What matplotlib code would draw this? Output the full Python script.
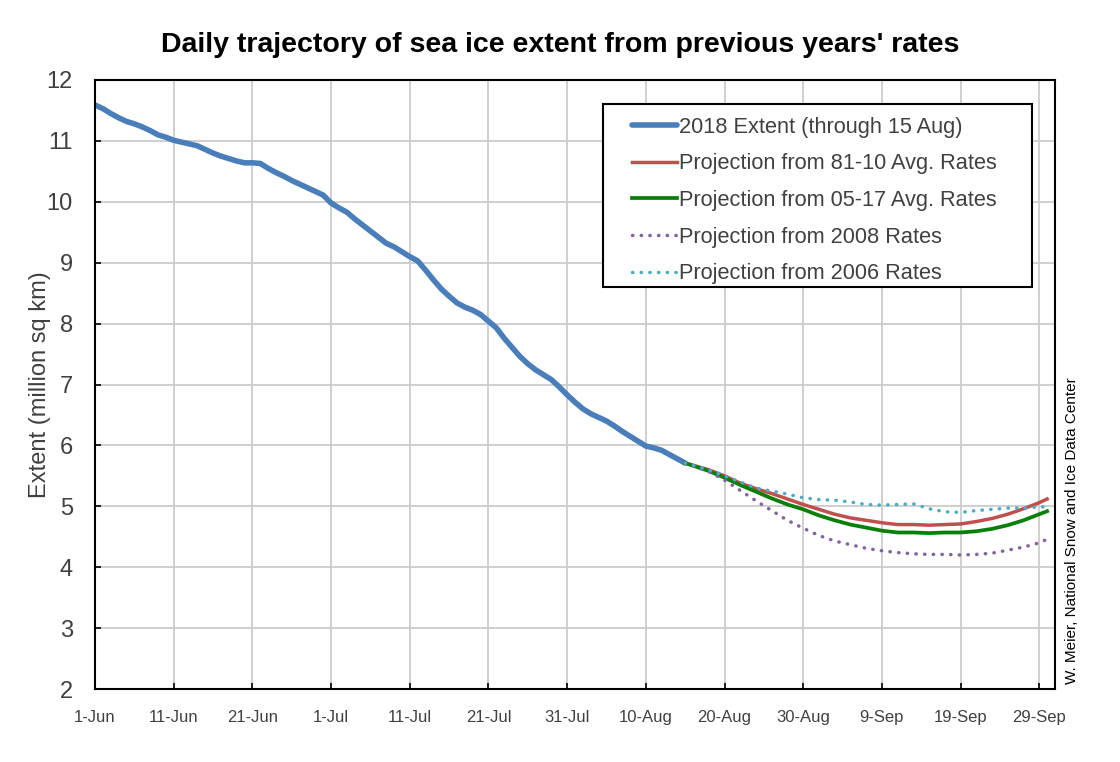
import matplotlib.pyplot as plt
from matplotlib.patches import Rectangle

plt.rcParams['font.family'] = ['Liberation Sans', 'DejaVu Sans']

# days since 1 June
tick_days = [0, 10, 20, 30, 40, 50, 60, 70, 80, 90, 100, 110, 120]
tick_labels = ["1-Jun", "11-Jun", "21-Jun", "1-Jul", "11-Jul", "21-Jul", "31-Jul",
               "10-Aug", "20-Aug", "30-Aug", "9-Sep", "19-Sep", "29-Sep"]

extent_days = list(range(0, 76))
extent_2018 = [11.59, 11.53, 11.45, 11.38, 11.32, 11.28, 11.23, 11.17, 11.10, 11.06,
               11.01, 10.98, 10.95, 10.92, 10.86, 10.80, 10.75, 10.71, 10.67, 10.64,
               10.64, 10.63, 10.55, 10.48, 10.42, 10.35, 10.29, 10.23, 10.17, 10.11,
               9.98, 9.90, 9.83, 9.72, 9.62, 9.52, 9.42, 9.32, 9.26, 9.18,
               9.10, 9.03, 8.88, 8.72, 8.57, 8.45, 8.34, 8.27, 8.22, 8.15,
               8.04, 7.93, 7.76, 7.61, 7.46, 7.34, 7.24, 7.16, 7.08, 6.96,
               6.83, 6.71, 6.60, 6.52, 6.46, 6.40, 6.32, 6.23, 6.15, 6.07,
               5.99, 5.96, 5.92, 5.85, 5.78, 5.71]

proj_days = [75, 78, 80, 82, 84, 86, 88, 90, 92, 94, 96, 98, 100, 102, 104, 106,
             108, 110, 112, 114, 116, 118, 120, 121]
proj_8110 = [5.71, 5.60, 5.50, 5.38, 5.29, 5.21, 5.12, 5.03, 4.95, 4.87, 4.81, 4.77,
             4.73, 4.70, 4.70, 4.69, 4.70, 4.71, 4.75, 4.80, 4.87, 4.96, 5.06, 5.12]
proj_0517 = [5.71, 5.58, 5.47, 5.35, 5.24, 5.13, 5.03, 4.95, 4.85, 4.77, 4.70, 4.65,
             4.60, 4.57, 4.57, 4.56, 4.57, 4.57, 4.59, 4.63, 4.69, 4.77, 4.87, 4.92]
proj_2008 = [5.71, 5.57, 5.43, 5.26, 5.09, 4.93, 4.77, 4.64, 4.52, 4.43, 4.37, 4.31,
             4.27, 4.24, 4.22, 4.21, 4.21, 4.20, 4.21, 4.23, 4.28, 4.33, 4.40, 4.46]
proj_2006 = [5.71, 5.60, 5.50, 5.40, 5.30, 5.25, 5.20, 5.14, 5.11, 5.10, 5.07, 5.03,
             5.02, 5.03, 5.04, 4.96, 4.91, 4.90, 4.93, 4.95, 4.97, 4.97, 4.99, 4.99]

fig = plt.figure(figsize=(11.2, 7.62), dpi=100)
ax = fig.add_axes([95 / 1120, 1 - 689 / 762, 960 / 1120, 609 / 762])

ax.plot(extent_days, extent_2018, color="#4a7ebb", lw=4.0, solid_capstyle="round",
        label="2018 Extent (through 15 Aug)")
ax.plot(proj_days, proj_8110, color="#c0504d", lw=2.5, label="Projection from 81-10 Avg. Rates")
ax.plot(proj_days, proj_0517, color="#0a800a", lw=2.7, label="Projection from 05-17 Avg. Rates")
ax.plot(proj_days, proj_2008, color="#8064a2", lw=2.5, ls=(0, (0.1, 2.4)),
        dash_capstyle="round", label="Projection from 2008 Rates")
ax.plot(proj_days, proj_2006, color="#4bacc6", lw=2.5, ls=(0, (0.1, 2.4)),
        dash_capstyle="round", label="Projection from 2006 Rates")

ax.set_xlim(0, 122)
ax.set_ylim(2, 12)
ax.set_xticks(tick_days)
ax.set_xticklabels(tick_labels, fontsize=12, color="#404040")
ax.set_yticks(range(2, 13))
ax.tick_params(axis="y", labelsize=17, labelcolor="#404040", pad=16)
ax.tick_params(axis="x", pad=15)
ax.tick_params(direction="in", length=4, width=1.2, color="black")
ax.grid(True, color="#cccccc", lw=1.3)
ax.set_axisbelow(True)
for s in ax.spines.values():
    s.set_color("black")
    s.set_linewidth(1.5)

ax.set_ylabel("Extent (million sq km)", fontsize=17, color="#404040", labelpad=-3)

fig.text(0.5, 1 - 45 / 762, "Daily trajectory of sea ice extent from previous years' rates",
         ha="center", va="center", fontsize=20.5, fontweight="bold")
fig.text(1072 / 1120, 1 - 531 / 762, "W. Meier, National Snow and Ice Data Center",
         rotation=90, ha="center", va="center", fontsize=11)

# legend box drawn as its own frame
ax.add_patch(Rectangle((0.529, 0.660), 0.447, 0.3005, transform=ax.transAxes,
                       facecolor="white", edgecolor="black", lw=1.5, zorder=5))
leg = ax.legend(loc="upper left", bbox_to_anchor=(0.559, 0.940), fontsize=15.7,
                frameon=False, handlelength=2.1, handletextpad=0.08,
                labelspacing=0.72, borderpad=0, borderaxespad=0)
leg.set_zorder(6)
for t in leg.get_texts():
    t.set_color("#404040")

fig.savefig("out.png", dpi=100)
